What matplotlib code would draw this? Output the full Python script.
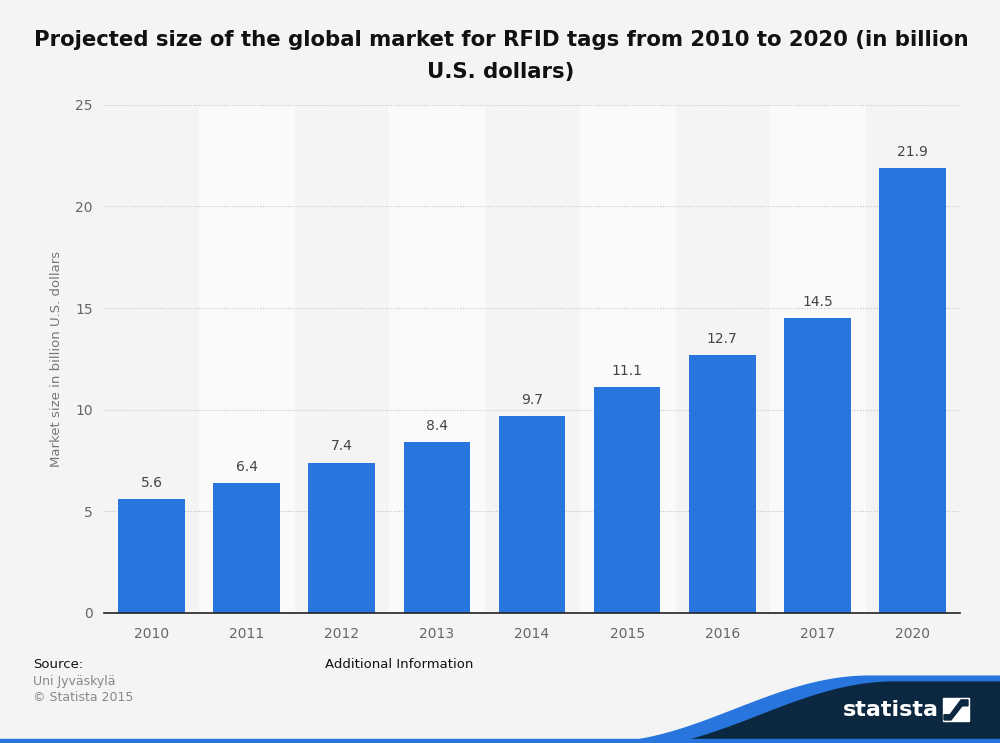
import numpy as np
import matplotlib
matplotlib.use("Agg")
import matplotlib.pyplot as plt
from matplotlib.patches import Polygon, Rectangle

plt.rcParams["font.family"] = ["DejaVu Sans"]

years = ["2010", "2011", "2012", "2013", "2014", "2015", "2016", "2017", "2020"]
market_size = [5.6, 6.4, 7.4, 8.4, 9.7, 11.1, 12.7, 14.5, 21.9]
value_labels = ["5.6", "6.4", "7.4", "8.4", "9.7", "11.1", "12.7", "14.5", "21.9"]

bg = "#f4f4f4"
bar_color = "#2876dd"
navy = "#0b2840"

fig = plt.figure(figsize=(10, 7.43), dpi=100, facecolor=bg)
ax = fig.add_axes([0.104, 0.175, 0.856, 0.684])
ax.set_facecolor(bg)

x = np.arange(len(years))
# alternating column shading
for i in x:
    if i % 2 == 1:
        ax.axvspan(i - 0.5, i + 0.5, color="#fafafa", zorder=0)

ax.bar(x, market_size, width=0.7, color=bar_color, zorder=3)
for xi, v, lab in zip(x, market_size, value_labels):
    ax.text(xi, v + 0.45, lab, ha="center", va="bottom", fontsize=10, color="#444444", zorder=4)

ax.set_xlim(-0.5, len(years) - 0.5)
ax.set_ylim(0, 25)
ax.set_yticks([0, 5, 10, 15, 20, 25])
ax.set_xticks(x)
ax.set_xticklabels(years)
ax.yaxis.grid(True, linestyle=(0, (1, 1.5)), color="#c4c4c4", linewidth=0.8, zorder=1)
ax.tick_params(axis="both", length=0, labelsize=10, labelcolor="#666666", pad=10)
ax.tick_params(axis="y", pad=8)
for s in ["top", "right", "left"]:
    ax.spines[s].set_visible(False)
ax.spines["bottom"].set_color("#222222")
ax.spines["bottom"].set_linewidth(1.2)
ax.spines["bottom"].set_zorder(5)
ax.set_ylabel("Market size in billion U.S. dollars", fontsize=9.5, color="#777777", labelpad=9)

fig.text(0.501, 0.925, "Projected size of the global market for RFID tags from 2010 to 2020 (in billion\nU.S. dollars)",
         ha="center", va="center", fontsize=15.3, fontweight="bold", color="#111111", linespacing=1.75)

fig.text(0.033, 0.105, "Source:", fontsize=9.5, color="#111111", va="center")
fig.text(0.033, 0.083, "Uni Jyväskylä", fontsize=9, color="#888888", va="center")
fig.text(0.033, 0.061, "© Statista 2015", fontsize=9, color="#888888", va="center")
fig.text(0.325, 0.105, "Additional Information", fontsize=9.5, color="#111111", va="center")

# statista logo wave
t = np.linspace(0, 1, 80)
wx = 0.60 + 0.27 * t
wy = 0.090 * (0.5 - 0.5 * np.cos(np.pi * t))
top_x = np.concatenate([wx, [1.0]])
top_y = np.concatenate([wy, [0.090]])
blue_pts = list(zip(top_x, top_y)) + [(1.0, 0.0), (0.60, 0.0)]
fig.patches.append(Polygon(blue_pts, closed=True, transform=fig.transFigure, color=bar_color, zorder=1))
navy_pts = list(zip(top_x + 0.025, top_y - 0.008)) + [(1.0, 0.0), (0.625, 0.0)]
navy_pts = [(min(a, 1.0), max(b, 0.0)) for a, b in navy_pts]
fig.patches.append(Polygon(navy_pts, closed=True, transform=fig.transFigure, color=navy, zorder=2))
fig.patches.append(Rectangle((0, 0), 1, 0.005, transform=fig.transFigure, color=bar_color, zorder=3))
fig.text(0.843, 0.044, "statista", fontsize=16, fontweight="bold", color="white", va="center", zorder=4)
fig.patches.append(Rectangle((0.943, 0.029), 0.026, 0.031, transform=fig.transFigure, color="white", zorder=4))
fig.patches.append(Polygon([(0.944, 0.031), (0.951, 0.031), (0.962, 0.050), (0.968, 0.050),
                            (0.968, 0.058), (0.961, 0.058), (0.950, 0.038), (0.944, 0.038)], closed=True,
                           transform=fig.transFigure, color=navy, zorder=5))

fig.savefig("out.png", dpi=100, facecolor=bg)
